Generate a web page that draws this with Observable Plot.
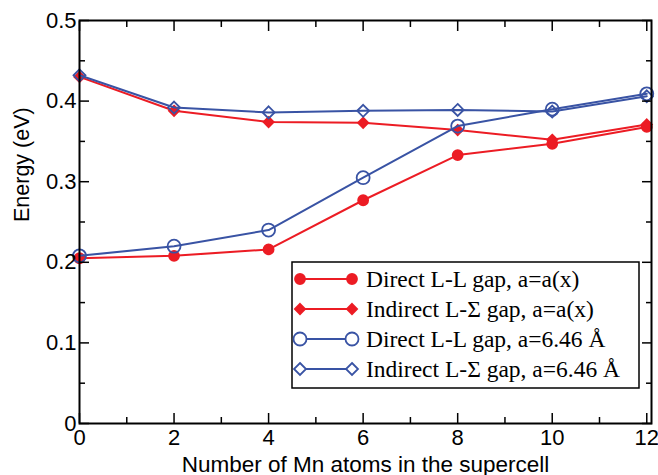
<!DOCTYPE html>
<html><head><meta charset="utf-8">
<script src="https://cdn.jsdelivr.net/npm/d3@7"></script>
<script src="https://cdn.jsdelivr.net/npm/@observablehq/plot@0.6"></script>
<style>body{margin:0;background:#fff}#wrap{position:relative;width:658px;height:475px}</style>
</head><body><div id="wrap"></div>
<script>
const atoms = [0, 2, 4, 6, 8, 10, 12];
const directAx = [0.205, 0.208, 0.216, 0.277, 0.333, 0.347, 0.368];
const indirectAx = [0.430, 0.388, 0.374, 0.373, 0.364, 0.352, 0.371];
const direct646 = [0.208, 0.220, 0.240, 0.305, 0.369, 0.390, 0.409];
const indirect646 = [0.432, 0.392, 0.386, 0.388, 0.389, 0.387, 0.406];
const seriesNames = ["Direct L-L gap, a=a(x)", "Indirect L-\u03A3 gap, a=a(x)", "Direct L-L gap, a=6.46 \u00C5", "Indirect L-\u03A3 gap, a=6.46 \u00C5"];
const xTicks = [0, 2, 4, 6, 8, 10, 12];
const xMinor = [1, 3, 5, 7, 9, 11];
const yTicks = [0, 0.1, 0.2, 0.3, 0.4, 0.5];
const yMinor = [0.05, 0.15, 0.25, 0.35, 0.45];
const yTickLabels = ["0", "0.1", "0.2", "0.3", "0.4", "0.5"];

const RED = "#ec1c24", BLUE = "#3953a4";
const styles = [
  {stroke: RED, symbol: "circle", fill: RED, r: 5},
  {stroke: RED, symbol: "diamond2", fill: RED, r: 4.6},
  {stroke: BLUE, symbol: "circle", fill: "none", r: 6.5},
  {stroke: BLUE, symbol: "diamond2", fill: "none", r: 5.4}
];
const allSeries = [directAx, indirectAx, direct646, indirect646];
const rows = (vals) => atoms.map((a, i) => ({x: a, y: vals[i]}));

const marks = [];
allSeries.forEach((vals, k) => {
  const s = styles[k];
  marks.push(Plot.line(rows(vals), {x: "x", y: "y", stroke: s.stroke, strokeWidth: 2}));
  marks.push(Plot.dot(rows(vals), {x: "x", y: "y", symbol: () => s.symbol, r: s.r, stroke: s.stroke, fill: s.fill, strokeWidth: 1.8}));
});

const chart = Plot.plot({
  width: 658, height: 475,
  marginLeft: 79, marginRight: 7, marginTop: 20, marginBottom: 52,
  style: {fontFamily: "'Liberation Sans', Arial, sans-serif", background: "#fff"},
  x: {domain: [0, 12.1]},
  y: {domain: [0, 0.5]},
  symbol: {type: "identity"},
  marks: [
    ...marks,
    Plot.frame({stroke: "black", strokeWidth: 2}),
    Plot.axisX({anchor: "bottom", ticks: xTicks, tickSize: -10, tickFormat: () => "", label: null, strokeWidth: 1.5}),
    Plot.axisX({anchor: "top", ticks: xTicks, tickSize: -10, tickFormat: () => "", label: null, strokeWidth: 1.5}),
    Plot.axisX({anchor: "bottom", ticks: xMinor, tickSize: -6, tickFormat: () => "", label: null, strokeWidth: 1.5}),
    Plot.axisX({anchor: "top", ticks: xMinor, tickSize: -6, tickFormat: () => "", label: null, strokeWidth: 1.5}),
    Plot.axisY({anchor: "left", ticks: yTicks, tickSize: -10, tickFormat: () => "", label: null, strokeWidth: 1.5}),
    Plot.axisY({anchor: "right", ticks: yTicks, tickSize: -10, tickFormat: () => "", label: null, strokeWidth: 1.5}),
    Plot.axisY({anchor: "left", ticks: yMinor, tickSize: -6, tickFormat: () => "", label: null, strokeWidth: 1.5}),
    Plot.axisY({anchor: "right", ticks: yMinor, tickSize: -6, tickFormat: () => "", label: null, strokeWidth: 1.5}),
    Plot.axisX({anchor: "bottom", ticks: xTicks, tickSize: 0, tickPadding: 6, fontSize: 22, fill: "black", label: null}),
    Plot.axisY({anchor: "left", ticks: yTicks, tickSize: 0, tickPadding: 3, fontSize: 22, fill: "black", label: null,
      tickFormat: (d) => yTickLabels[yTicks.indexOf(d)]}),
    Plot.text([0], {frameAnchor: "bottom", dy: 48, text: () => "Number of Mn atoms in the supercell", fontSize: 22.5, fill: "black"}),
    Plot.text([0], {frameAnchor: "left", dx: -57, rotate: -90, text: () => "Energy (eV)", fontSize: 21.5, fill: "black"})
  ]
});
const wrap = document.getElementById("wrap");
wrap.appendChild(chart);

// Legend overlay
const lg = d3.select(wrap).append("svg")
  .attr("width", 658).attr("height", 475)
  .style("position", "absolute").style("left", "0").style("top", "0");
lg.append("rect").attr("x", 292).attr("y", 262).attr("width", 347).attr("height", 126)
  .attr("fill", "white").attr("stroke", "black").attr("stroke-width", 1.5);
const rowY = [279, 309, 339, 369];
seriesNames.forEach((name, k) => {
  const s = styles[k], y = rowY[k];
  lg.append("line").attr("x1", 300).attr("x2", 352).attr("y1", y).attr("y2", y)
    .attr("stroke", s.stroke).attr("stroke-width", 2);
  const sym = d3.symbol(s.symbol === "circle" ? d3.symbolCircle : d3.symbolDiamond2, s.r * s.r * Math.PI);
  [300, 352].forEach(x => {
    lg.append("path").attr("d", sym()).attr("transform", `translate(${x},${y})`)
      .attr("fill", s.fill === "none" ? "white" : s.fill).attr("stroke", s.stroke).attr("stroke-width", 1.8);
  });
  lg.append("text").attr("x", 366).attr("y", y).attr("dy", "0.35em")
    .attr("font-family", "'Liberation Serif', 'Times New Roman', serif").attr("font-size", 23.5)
    .text(name);
});
</script></body></html>
